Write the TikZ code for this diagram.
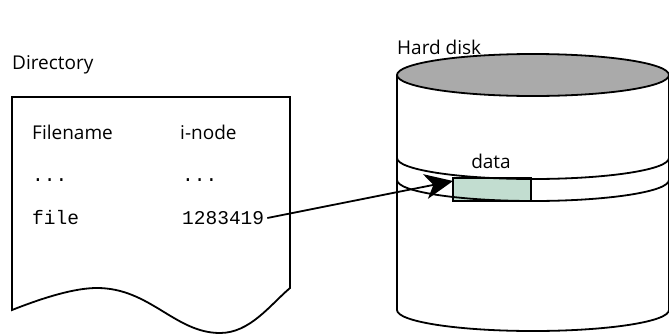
\documentclass[tikz,border=0pt]{standalone}
\usepackage{fontspec}
\setmainfont{Open Sans}
\setmonofont{Liberation Mono}
\usetikzlibrary{arrows.meta}
\definecolor{diskgray}{HTML}{AAAAAA}
\definecolor{blockgreen}{HTML}{C2DDD0}
\tikzset{
  outline/.style={draw=black, line width=1.8pt},
  label/.style={inner sep=0pt, anchor=west, font=\fontsize{19}{19}\selectfont},
  mono/.style={inner sep=0pt, anchor=west, font=\fontsize{19.5}{20}\selectfont\ttfamily},
}
\begin{document}
\begin{tikzpicture}[x=1pt, y=-1pt]
\useasboundingbox (0,0) rectangle (669,335);
\clip (0,0) rectangle (669,335);

% directory sheet with a wavy bottom edge
\draw[outline, fill=white] (12,97) -- (290,97) -- (290,288)
  .. controls (270,305) and (250,333) .. (220,333)
  .. controls (175,333) and (150,288) .. (97,288)
  .. controls (75,288) and (45,297) .. (12,310) -- cycle;

\node[label] (dirtitle) at (12,65) {Directory};
\node[label] (colname) at (32,132) {Filename};
\node[label] (colinode) at (180,132) {i-node};
\node[mono] (dotsname) at (32,180) {...};
\node[mono] (dotsinode) at (182,180) {...};
\node[mono] (fname) at (32,218) {file};
\node[mono] (inum) at (182,218) {1283419};

% hard disk cylinder
\def\cx{533}\def\rx{136}\def\ry{21}
\fill[white] (397,75) rectangle (669,310);
\draw[outline] (397,75) -- (397,310) arc[start angle=180, end angle=360, x radius=\rx, y radius=-\ry];
\draw[outline] (669,75) -- (669,310);
\draw[outline, fill=diskgray] (\cx,75) ellipse[x radius=\rx, y radius=\ry];

% track band
\fill[blockgreen] (453,178) rectangle (531,201);
\draw[outline] (397,158) arc[start angle=180, end angle=360, x radius=\rx, y radius=-\ry];
\draw[outline] (397,180) arc[start angle=180, end angle=360, x radius=\rx, y radius=-\ry];
\draw[outline] (453,178) rectangle (531,201);
\coordinate (block) at (453,181);

\node[label] (disktitle) at (397,47) {Hard disk};
\node[label, anchor=center] (datalabel) at (491,161) {data};

% pointer from the i-node number to the data block
\draw[line width=1.8pt, -{Stealth[length=28pt, width=25pt, inset=8pt]}] (inum.east) ++(3,0) -- (block);
\end{tikzpicture}
\end{document}
